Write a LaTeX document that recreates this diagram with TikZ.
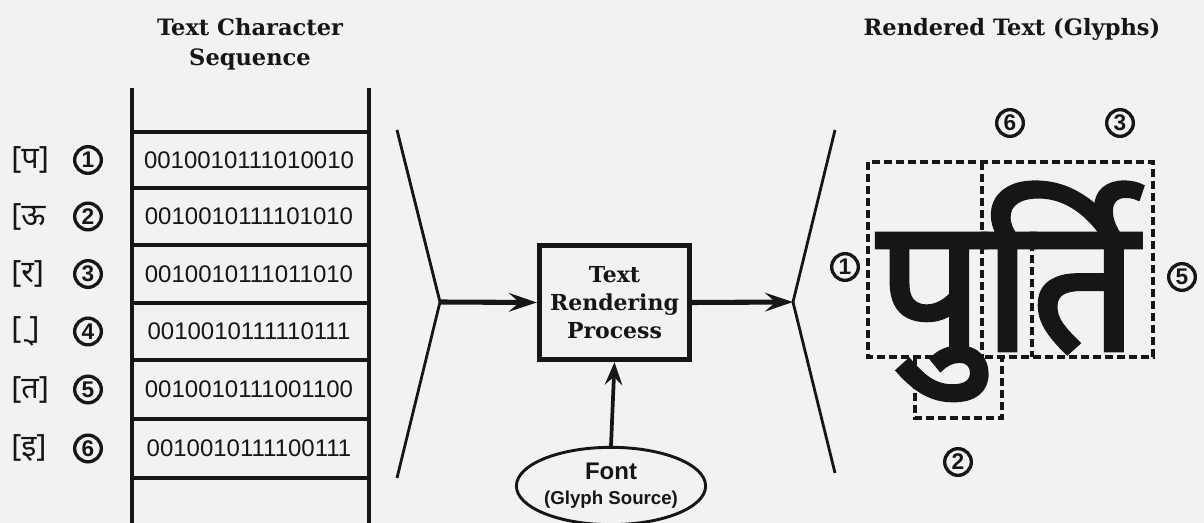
\documentclass[tikz,border=0pt]{standalone}
\usepackage{fontspec}
\usetikzlibrary{arrows.meta,shapes.geometric}
\newfontfamily\binfont{Liberation Sans}
\newfontfamily\serifb{DejaVu Serif}
\newfontfamily\devafont[Script=Devanagari]{Noto Sans}
\newfontfamily\devabig[Script=Devanagari,FakeBold=2.5]{Noto Sans}
\definecolor{bg}{RGB}{242,242,242}
\definecolor{ink}{RGB}{22,22,22}
\begin{document}
\begin{tikzpicture}[x=0.75pt,y=-0.75pt,
  title/.style={font=\serifb\bfseries\fontsize{16.9}{22.5}\selectfont,align=center,text=ink,inner sep=0pt},
  bits/.style={font=\binfont\fontsize{18}{20}\selectfont,text=ink,inner sep=0pt},
  num/.style={circle,draw=ink,line width=2.5pt,inner sep=0pt,minimum size=20pt,
    font=\binfont\bfseries\fontsize{17}{17}\selectfont,text=ink},
  devlab/.style={font=\devafont\fontsize{23}{23}\selectfont,anchor=west,text=ink,inner sep=0pt},
  rule/.style={draw=ink,line width=2.3pt},
  chev/.style={draw=ink,line width=2.1pt},
  process/.style={draw=ink,line width=4pt,minimum width=112.5pt,minimum height=85.5pt,
    align=center,inner sep=0pt,font=\serifb\bfseries\fontsize{16.5}{21}\selectfont,text=ink},
  source/.style={ellipse,draw=ink,line width=2.2pt,minimum width=134pt,minimum height=58pt,
    inner sep=0pt,align=center,text=ink,font=\binfont\bfseries\fontsize{14}{19}\selectfont},
  bigarrow/.style={draw=ink,line width=3.8pt,-{Stealth[length=21pt,width=14pt,inset=8pt]}},
  uparrow/.style={draw=ink,line width=2.8pt,-{Stealth[length=17pt,width=13pt,inset=6pt]}},
  dashbox/.style={draw=ink,line width=2.5pt,dash pattern=on 6pt off 3pt}
]
\fill[bg] (0,0) rectangle (1204,523);
\useasboundingbox (0,0) rectangle (1204,523);
\clip (0,0) rectangle (1204,523);

% titles
\node[title] (ttl) at (250,44) {Text Character\\Sequence};
\node[title] (ttr) at (1012,29) {Rendered Text (Glyphs)};

% table
\draw[rule] (132,88) -- (132,530);
\draw[rule] (369,88) -- (369,530);
\foreach \y in {132,188,245,303,360,419,478}{\draw[rule] (132,\y) -- (369,\y);}

\node[bits] (b1) at (249,160) {0010010111010010};
\node[bits] (b2) at (249,216.5) {0010010111101010};
\node[bits] (b3) at (249,274) {0010010111011010};
\node[bits] (b4) at (249,331.5) {0010010111110111};
\node[bits] (b5) at (249,389.5) {0010010111001100};
\node[bits] (b6) at (249,448.5) {0010010111100111};

\node[num] (n1) at (88,160) {1};
\node[num] (n2) at (88,216.5) {2};
\node[num] (n3) at (88,274) {3};
\node[num] (n4) at (88,331.5) {4};
\node[num] (n5) at (88,389.5) {5};
\node[num] (n6) at (88,448.5) {6};

\node[devlab] (d1) at (11,160) {[प]};
\node[devlab] (d2) at (11,216.5) {[ऊ};
\node[devlab] (d3) at (11,274) {[र]};
\node[devlab] (d4) at (11,331.5) {[\char"00A0्]};
\node[devlab] (d5) at (11,389.5) {[त]};
\node[devlab] (d6) at (11,448.5) {[इ]};

% chevrons
\coordinate (lt) at (397,130);
\coordinate (lv) at (440,302);
\coordinate (lb) at (397,478);
\draw[chev] (lt) -- (lv) -- (lb);
\coordinate (rt) at (835,130);
\coordinate (rv) at (793,302);
\coordinate (rb) at (835,473);
\draw[chev] (rt) -- (rv) -- (rb);

% process
\node[process] (proc) at (614.5,302.5) {Text\\Rendering\\Process};
\node[source] (font) at (611,486) {{\fontsize{18}{19}\selectfont Font}\\(Glyph Source)};
\draw[bigarrow] (lv) -- (proc.west);
\draw[bigarrow] (proc.east) -- (rv);
\draw[uparrow] (font.north) -- (proc.south);

% rendered glyph
\node[anchor=base west,inner sep=0pt,text=ink,font=\devabig\fontsize{140}{140}\selectfont] (glyph) at (877,350) {पुर्ति};

% component boxes
\draw[dashbox] (868,162) rectangle (1153,357);
\draw[dashbox] (982,162) -- (982,357);
\draw[dashbox] (1032,243) -- (1032,357);
\draw[dashbox] (915,357) -- (915,418) -- (1002,418) -- (1002,357);

\node[num] (c6) at (1010,123) {6};
\node[num] (c3) at (1120,123) {3};
\node[num] (c1) at (845,267) {1};
\node[num] (c5) at (1182,277) {5};
\node[num] (c2) at (958,462) {2};
\end{tikzpicture}
\end{document}
